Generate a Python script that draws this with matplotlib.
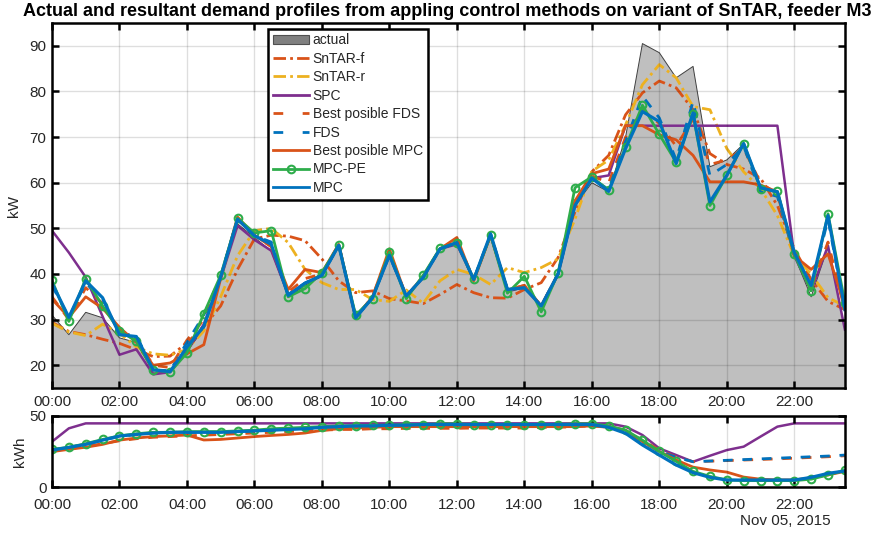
import numpy as np
import matplotlib
matplotlib.use('Agg')
import matplotlib.pyplot as plt
from matplotlib.patches import Patch
from matplotlib.lines import Line2D

plt.rcParams['font.family'] = ['Liberation Sans', 'DejaVu Sans']
plt.rcParams['lines.scale_dashes'] = False

# ---------------- data ----------------
hours = np.arange(48) * 0.5   # half-hourly time grid (hours of Nov 05, 2015)
xtick_pos = [0, 2, 4, 6, 8, 10, 12, 14, 16, 18, 20, 22]
xtick_labels = ['00:00', '02:00', '04:00', '06:00', '08:00', '10:00',
                '12:00', '14:00', '16:00', '18:00', '20:00', '22:00']

actual = [31, 26.7, 31.6, 30.4, 26, 25, 18.5, 18.5, 23, 28, 39, 51,
          48, 45, 35, 37.5, 39.5, 46, 30.5, 34.5, 44, 35, 39, 45.5,
          47, 38.5, 48, 36, 37, 33, 40, 55, 60, 58, 70, 90.5,
          88.5, 83, 85.5, 63.5, 65, 68.5, 59, 58, 44, 35, 46, 28]

sntar_f = [29.4, 27.4, 26.7, 25.7, 24.8, 23.4, 21.9, 22, 24.9, 28.5, 33, 41,
           47.7, 48.5, 48.3, 47.3, 43.3, 38.5, 35.9, 36.3, 34.6, 34.1, 33.5, 35.5,
           37.7, 35.9, 34.8, 34.7, 36.6, 38.1, 43.6, 53.6, 62.4, 66, 74.9, 79.7,
           82.3, 80.8, 76, 66.4, 64, 63, 61, 55, 45.5, 38.8, 34, 32.2]

sntar_r = [29.2, 27.3, 26.5, 29, 27, 24, 22.5, 22.2, 23.5, 27.5, 35, 44,
           49.5, 50, 46.9, 41, 38.1, 36.6, 36.6, 34.4, 34, 36.5, 33.6, 38.5,
           41, 39.9, 37.7, 41.4, 40.3, 41.4, 43.3, 52, 62.5, 65, 72.7, 81.5,
           85.9, 83, 76.7, 76, 67.5, 62.4, 58.7, 52.8, 44, 40, 34.8, 33]

spc = [49.5, 44.7, 39.3, 30.7, 22.3, 23.5, 18, 18.5, 23, 29, 39, 50.6,
       47.5, 45.1, 35.5, 38, 39.7, 46.3, 30.4, 34.8, 44.1, 35.2, 39.2, 45.5,
       46.5, 38.8, 48.5, 36.5, 37, 33, 40, 55, 61, 61.6, 72.5, 72.5,
       72.5, 72.5, 72.5, 72.5, 72.5, 72.5, 72.5, 72.5, 44, 36.3, 46.2, 27.8]

best_fds = [35, 30, 37, 33.5, 27.5, 26, 20, 19.5, 25.5, 30, 39.5, 52,
            48.5, 46, 36, 39, 40, 46.5, 30.5, 35, 45, 35, 39.5, 45.5,
            47.5, 38.8, 48.5, 36.5, 37.5, 33, 40, 56, 61.5, 60, 70, 76,
            73, 68, 74, 64, 65, 67.5, 60, 57.5, 44.5, 37, 47, 32]

fds = [37.5, 30.5, 38, 34.5, 27, 26.5, 19, 18.8, 25, 31, 39.5, 52,
       48.4, 47, 35.5, 38, 39.7, 46.3, 30.4, 34.8, 44.1, 35.2, 39.2, 45.5,
       46.9, 38.8, 48.8, 36.6, 37, 33, 40, 55.5, 61, 58.5, 69, 79,
       74.2, 65, 77.8, 61.6, 64, 68, 58, 57, 44, 37, 52, 32]

best_mpc = [34.5, 30.5, 35, 32.5, 28.3, 25, 20, 20.5, 22.5, 24.5, 39, 52.5,
            48.5, 46, 36.6, 41, 40.3, 46.5, 30.5, 35, 45.5, 35, 39.5, 45.5,
            48, 38.5, 48.5, 36.5, 37.5, 33, 40, 56, 62, 63, 72.5, 72.5,
            70.5, 69.4, 66, 60.2, 60.2, 60.2, 59.5, 58, 44, 41, 44.4, 33]

mpc_pe = [38.6, 29.6, 39, 33, 27.5, 25.3, 19, 18.5, 22.7, 31.3, 39.7, 52.2,
          49, 49.5, 35, 36.8, 40.3, 46.3, 31, 34.6, 44.8, 34.6, 39.7, 45.6,
          46.9, 38.8, 48.5, 35.8, 39.5, 31.7, 40.2, 58.9, 61.3, 58.3, 67.8, 77,
          70.6, 64.5, 75, 55, 61.6, 68.6, 58.7, 58.1, 44.3, 36.3, 53.2, 33.7]

mpc = [38, 30.5, 38.5, 34.8, 26.7, 26.3, 19, 18.6, 24, 28.5, 39.3, 52,
       48.4, 46.5, 35.3, 38, 39.7, 46.3, 30.4, 34.8, 44.1, 35.2, 39.2, 45.5,
       46.9, 38.8, 48.8, 36.6, 37, 33, 40, 55, 61, 58.1, 67.5, 75.6,
       73.4, 64.2, 75.3, 55.8, 61.6, 68.6, 58.9, 58, 44.7, 37.5, 52.8, 32.2]

# storage energy (kWh)
soc_spc = [31.9, 41.3, 44.8, 44.8, 44.8, 44.8, 44.8, 44.8, 44.8, 44.8, 44.8, 44.8,
           44.8, 44.8, 44.8, 44.8, 44.8, 44.8, 44.8, 44.8, 44.8, 44.8, 44.8, 44.8,
           44.8, 44.8, 44.8, 44.8, 44.8, 44.8, 44.8, 44.8, 44.8, 44.8, 42.5, 36.6,
           27.2, 22.5, 17.8, 22, 26, 28.4, 35.5, 42.5, 44.8, 44.8, 44.8, 44.8]

soc_best_fds = [25.5, 27, 28.5, 30.5, 32.5, 34, 35, 35.5, 36, 36.5, 37, 37.5,
                38, 38.5, 39, 39.5, 40, 40.5, 40.5, 41, 41, 41.3, 41.3, 41.3,
                41.3, 41.5, 41.5, 41.5, 41.5, 42, 42, 42.5, 43, 42, 39, 33,
                26, 21, 17.8, 18.2, 18.6, 19, 19.4, 19.8, 20.3, 20.8, 21.3, 22]

soc_fds = [26, 28, 30, 33, 35.5, 37, 38, 38.5, 38.5, 38.5, 38.5, 39,
           39.5, 40, 40.5, 41, 42, 42.5, 43, 43, 43.5, 43.5, 44, 44,
           44, 44, 44, 44, 44, 44, 44, 44, 44, 42.5, 39, 32,
           25, 21, 17.8, 18.3, 18.8, 19.3, 19.8, 20.3, 20.8, 21.3, 21.8, 22.5]

soc_best_mpc = [24.9, 26.5, 28, 30, 33, 34.5, 35.5, 36, 36.6, 33.1, 33.5, 34.5,
                35.5, 36.3, 37, 38, 39.9, 41, 41.5, 42, 42.5, 42.5, 42.5, 42.5,
                42.5, 42.5, 42.5, 42.5, 42.5, 42.5, 42.5, 42.5, 43, 42.5, 40, 32,
                25, 19, 14, 12, 10.5, 7, 5.5, 5, 5, 6.5, 8.5, 11]

soc_mpc_pe = [26.5, 28, 30.5, 33.5, 36, 37.5, 38.5, 38.5, 39, 39, 39, 39.5,
              40, 41, 41.5, 42, 42.5, 43, 43, 43.5, 43.5, 44, 44, 44.5,
              44.5, 44, 44, 44, 44, 44, 44, 44.5, 44.5, 43, 40, 33,
              25, 18, 11, 7.5, 5, 4.5, 4.5, 4.5, 4.5, 5.5, 8.5, 11.7]

soc_mpc = [26, 27.9, 30, 33, 35.9, 37, 38, 38.5, 38.5, 38.5, 38.5, 39,
           39.5, 40, 40.5, 41, 42, 42.5, 43, 43, 43.5, 43.5, 44, 44,
           44, 44, 44, 44, 44, 44, 44, 44, 44, 42, 37.8, 29.6,
           22.5, 15.5, 10.1, 6.8, 4.9, 4.9, 4.9, 4.9, 4.9, 6.8, 9.6, 11.3]

# ---------------- style ----------------
C_BLUE = '#0072BD'
C_ORANGE = '#D95319'
C_YELLOW = '#EDB120'
C_PURPLE = '#7E2F8E'
C_GREEN = '#2EAD4B'
DASHDOT = (0, (9, 3, 2, 3))
DASH = (0, (7, 7))
TXT = '#262626'

fig = plt.figure(figsize=(8.81, 5.36), dpi=100)
ax = fig.add_axes([0.059, 0.276, 0.900, 0.681])
ax2 = fig.add_axes([0.059, 0.0914, 0.900, 0.1325])

# ---- top axes ----
ax.fill_between(hours, actual, 0, facecolor=(0.5, 0.5, 0.5), alpha=0.5,
                edgecolor='none', zorder=1)
ax.plot(hours, actual, color='#404040', lw=0.7, zorder=1.5)
ax.plot(hours, sntar_f, color=C_ORANGE, lw=2, ls=DASHDOT, zorder=2)
ax.plot(hours, sntar_r, color=C_YELLOW, lw=2, ls=DASHDOT, zorder=2.1)
ax.plot(hours, spc, color=C_PURPLE, lw=1.8, zorder=2.2)
ax.plot(hours, best_fds, color=C_ORANGE, lw=2, ls=DASH, zorder=2.3)
ax.plot(hours, fds, color=C_BLUE, lw=2, ls=DASH, zorder=2.4)
ax.plot(hours, best_mpc, color=C_ORANGE, lw=2, zorder=2.5)
ax.plot(hours, mpc_pe, color=C_GREEN, lw=2, marker='o', ms=5.5, mfc='none',
        mew=1.5, zorder=2.6)
ax.plot(hours, mpc, color=C_BLUE, lw=2.3, zorder=2.7)

ax.set_xlim(0, 23.5)
ax.set_ylim(15, 95)
ax.set_yticks([20, 30, 40, 50, 60, 70, 80, 90])
ax.set_xticks(xtick_pos)
ax.set_xticklabels(xtick_labels)
ax.set_ylabel('kW', fontsize=11, color=TXT, labelpad=6)

fig.text(447 / 881, 1 - 11 / 536,
         'Actual and resultant demand profiles from appling control methods on variant of SnTAR, feeder M3',
         fontsize=13, fontweight='bold', ha='center', va='center')

handles = [
    Patch(facecolor='#808080', edgecolor='#505050', lw=0.8),
    Line2D([], [], color=C_ORANGE, lw=2, ls=DASHDOT),
    Line2D([], [], color=C_YELLOW, lw=2, ls=DASHDOT),
    Line2D([], [], color=C_PURPLE, lw=2),
    Line2D([], [], color=C_ORANGE, lw=2, ls=(0, (7, 14))),
    Line2D([], [], color=C_BLUE, lw=2, ls=(0, (7, 14))),
    Line2D([], [], color=C_ORANGE, lw=2),
    Line2D([], [], color=C_GREEN, lw=2, marker='o', ms=5.5, mfc='none', mew=1.5),
    Line2D([], [], color=C_BLUE, lw=2),
]
labels = ['actual', 'SnTAR-f', 'SnTAR-r', 'SPC', 'Best posible FDS', 'FDS',
          'Best posible MPC', 'MPC-PE', 'MPC']
leg = ax.legend(handles, labels, loc='upper left', bbox_to_anchor=(0.272, 0.985),
                fontsize=10, frameon=True, fancybox=False, framealpha=1,
                edgecolor='black', handlelength=2.6, handletextpad=0.3,
                labelspacing=0.32, borderpad=0.35, borderaxespad=0)
leg.get_frame().set_linewidth(1.8)
for t in leg.get_texts():
    t.set_color(TXT)

# ---- bottom axes ----
ax2.plot(hours, soc_spc, color=C_PURPLE, lw=1.8, zorder=2.2)
ax2.plot(hours, soc_best_fds, color=C_ORANGE, lw=2, ls=DASH, zorder=2.3)
ax2.plot(hours, soc_fds, color=C_BLUE, lw=2, ls=DASH, zorder=2.4)
ax2.plot(hours, soc_best_mpc, color=C_ORANGE, lw=2, zorder=2.5)
ax2.plot(hours, soc_mpc_pe, color=C_GREEN, lw=2, marker='o', ms=5.5, mfc='none',
         mew=1.5, zorder=2.6)
ax2.plot(hours, soc_mpc, color=C_BLUE, lw=2.3, zorder=2.7)
ax2.set_xlim(0, 23.5)
ax2.set_ylim(0, 50)
ax2.set_yticks([0, 50])
ax2.set_xticks(xtick_pos)
ax2.set_xticklabels(xtick_labels)
ax2.set_ylabel('kWh', fontsize=11, color=TXT, labelpad=2)

for a in (ax, ax2):
    a.grid(True, color='black', alpha=0.13, lw=1)
    a.set_axisbelow(False)
    a.tick_params(direction='in', length=5, width=1.8, top=True, right=True,
                  labelsize=11, labelcolor=TXT)
    a.tick_params(axis='y', pad=4)
    for s in a.spines.values():
        s.set_linewidth(1.8)
        s.set_zorder(5)
ax.tick_params(axis='x', pad=5)
ax2.tick_params(axis='x', pad=8)

fig.text(785 / 881, 1 - 521 / 536, 'Nov 05, 2015', fontsize=11, color=TXT,
         ha='center', va='center')

fig.savefig('out.png', dpi=100)
